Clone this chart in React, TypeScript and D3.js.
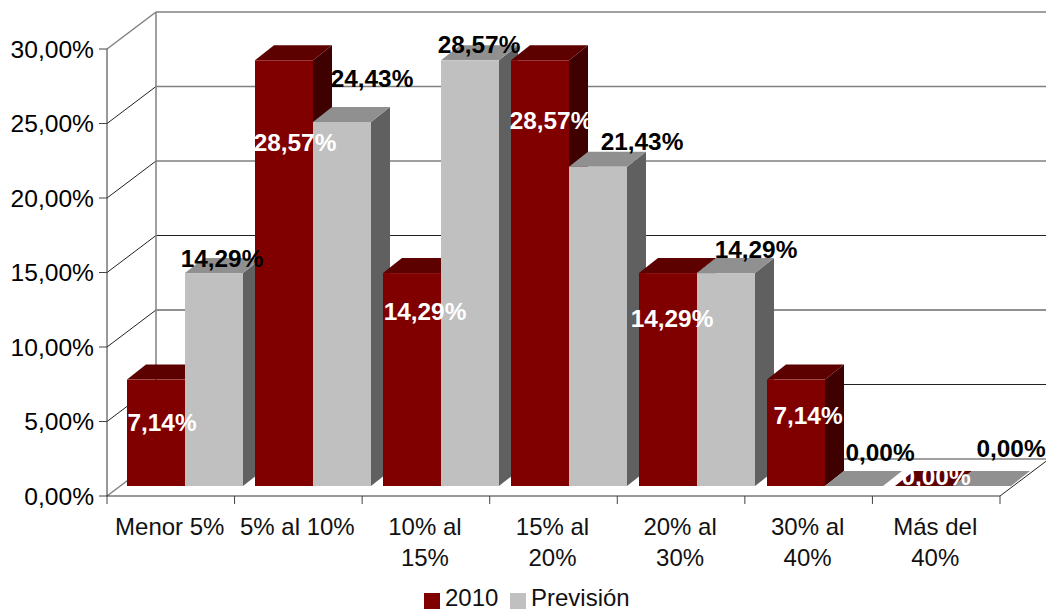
import React from "react";
import * as d3 from "d3";

const categories = [["Menor 5%"], ["5% al 10%"], ["10% al", "15%"], ["15% al", "20%"], ["20% al", "30%"], ["30% al", "40%"], ["Más del", "40%"]];
const series2010 = [7.14, 28.57, 14.29, 28.57, 14.29, 7.14, 0];
const seriesPrevision = [14.29, 24.43, 28.57, 21.43, 14.29, 0, 0];
const yTicks = [0, 5, 10, 15, 20, 25, 30];

// Hand placement of the value labels, as centre points in page coordinates
const labelSpots2010 = [[162, 422], [295, 142], [425, 311], [551, 120], [672, 318], [808, 415], [936, 476]];
const labelSpotsPrevision = [[222, 258], [372, 78], [479, 44], [642, 141], [756, 249], [880, 452], [1011, 448]];

const W = 1046, H = 610;
const depth = { x: 49, y: -37 };
const barDepth = { x: 19, y: -15 };
const FONT = "'Liberation Sans', Arial, sans-serif";

const x = d3.scaleLinear().domain([0, 7]).range([107, 1000]);
const y = d3.scaleLinear().domain([0, 30]).range([496, 49]);
// Bars stand on the floor, slightly behind the front axis plane
const barX = d3.scaleLinear().domain([0, 7]).range([127, 1023]);
const barBase = 486;
const barY = (v: number) => barBase - (y(0) - y(v));
const fmt = (v: number) => v.toFixed(2).replace(".", ",") + "%";

const barWidth = 58;

const colors2010 = { front: "#800000", top: "#5c0000", side: "#3f0000" };
const colorsPrev = { front: "#c0c0c0", top: "#909090", side: "#606060" };

const pts = (p: number[][]) => p.map((q) => q.join(",")).join(" ");

function Bar({ x0, w, v, c }: { x0: number; w: number; v: number; c: typeof colors2010 }) {
  const t = barY(v);
  const x1 = x0 + w;
  const { x: dx, y: dy } = barDepth;
  return (
    <g>
      <polygon points={pts([[x1, barBase], [x1 + dx, barBase + dy], [x1 + dx, t + dy], [x1, t]])} fill={c.side} />
      <polygon points={pts([[x0, t], [x1, t], [x1 + dx, t + dy], [x0 + dx, t + dy]])} fill={c.top} />
      {v > 0 && <rect x={x0} y={t} width={w} height={barBase - t} fill={c.front} />}
    </g>
  );
}

export default function App() {
  const backX = x(0) + depth.x;
  return (
    <svg width={W} height={H} style={{ position: "absolute", left: 0, top: 0, background: "#fff" }} fontFamily={FONT}>
      {/* back wall gridlines and their diagonals on the side wall */}
      {yTicks.map((t) => (
        <g key={t}>
          <line x1={backX} x2={W} y1={y(t) + depth.y} y2={y(t) + depth.y} stroke={t >= 20 || t === 0 ? "#808080" : "#222"} strokeWidth={t >= 20 || t === 0 ? 1.5 : 1} />
          <line x1={x(0)} x2={backX} y1={y(t)} y2={y(t) + depth.y} stroke={t === 0 || t === 30 ? "#808080" : "#222"} strokeWidth={t === 0 || t === 30 ? 1.5 : 1} />
        </g>
      ))}
      <line x1={backX} x2={backX} y1={y(30) + depth.y} y2={y(0) + depth.y} stroke="#808080" strokeWidth={1.5} />
      <line x1={x(7)} x2={x(7) + depth.x} y1={y(0)} y2={y(0) + depth.y} stroke="#222" />

      {/* bars */}
      {categories.map((_, i) => {
        const x0 = barX(i);
        return (
          <g key={i}>
            <Bar x0={x0} w={barWidth} v={series2010[i]} c={colors2010} />
            <Bar x0={x0 + barWidth} w={barWidth} v={seriesPrevision[i]} c={colorsPrev} />
          </g>
        );
      })}

      {/* axes */}
      <line x1={x(0)} x2={x(0)} y1={y(30)} y2={y(0)} stroke="#333" />
      <line x1={x(0)} x2={x(7)} y1={y(0)} y2={y(0)} stroke="#333" strokeWidth={1.2} />
      {yTicks.map((t) => (
        <g key={t}>
          <line x1={x(0) - 8} x2={x(0)} y1={y(t)} y2={y(t)} stroke="#444" />
          <text x={94} y={y(t)} dy="0.36em" textAnchor="end" fontSize={24.6} fill="#000">{fmt(t)}</text>
        </g>
      ))}
      {d3.range(8).map((i) => (
        <line key={i} x1={x(i)} x2={x(i)} y1={y(0)} y2={y(0) + 8} stroke="#444" />
      ))}
      {categories.map((lines, i) => (
        <text key={i} textAnchor="middle" fontSize={24} fill="#111">
          {lines.map((l, k) => (
            <tspan key={k} x={x(i + 0.5) - 1} y={535 + k * 31}>{l}</tspan>
          ))}
        </text>
      ))}

      {/* value labels */}
      {series2010.map((v, i) => (
        <text key={i} x={labelSpots2010[i][0]} y={labelSpots2010[i][1]} dy="0.36em" textAnchor="middle" fontSize={24.4} fontWeight="bold" fill="#fff">{fmt(v)}</text>
      ))}
      {seriesPrevision.map((v, i) => (
        <text key={i} x={labelSpotsPrevision[i][0]} y={labelSpotsPrevision[i][1]} dy="0.36em" textAnchor="middle" fontSize={24.4} fontWeight="bold" fill="#000">{fmt(v)}</text>
      ))}

      {/* legend */}
      <rect x={424} y={593} width={16} height={16} fill={colors2010.front} />
      <text x={445} y={606} fontSize={24} fill="#111">2010</text>
      <rect x={510} y={593} width={16} height={16} fill={colorsPrev.front} />
      <text x={531} y={606} fontSize={24} fill="#111">Previsión</text>
    </svg>
  );
}
